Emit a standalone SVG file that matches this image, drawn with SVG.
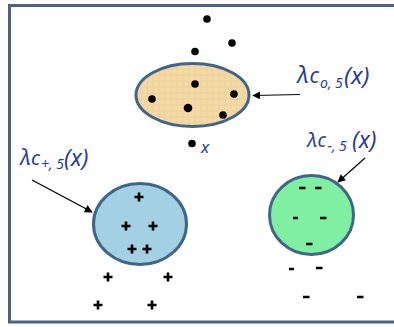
<svg xmlns="http://www.w3.org/2000/svg" width="394" height="327" viewBox="0 0 394 327">
<defs>
<style>
.frame{fill:none;stroke:#4a6283;stroke-width:3}
.node{stroke:#40658a;stroke-width:3}
.dot{fill:#000}
.pm{stroke:#000;stroke-width:2.6;fill:none}
.lbl{font-family:"Noto Sans","Liberation Sans",sans-serif;font-style:italic;fill:#2c3c98}
.conn{stroke:#000;stroke-width:1.2;fill:none;marker-end:url(#ah)}
</style>
<pattern id="tex" width="6" height="6" patternUnits="userSpaceOnUse">
<rect width="6" height="6" fill="#f3d9a4"/>
<path d="M0 3H6M3 0V6" stroke="#e8cc94" stroke-width="0.6"/>
</pattern>
<marker id="ah" viewBox="0 0 10 10" refX="9" refY="5" markerWidth="8" markerHeight="8" markerUnits="userSpaceOnUse" orient="auto">
<path d="M0 0L10 5L0 10z" fill="#000"/>
</marker>
</defs>
<rect width="394" height="327" fill="#fff"/>
<rect class="frame" x="9.5" y="5.5" width="400" height="316.5"/>

<g id="connectors">
<line class="conn" x1="300" y1="94.5" x2="253" y2="95.5"/>
<line class="conn" x1="32" y1="180" x2="92" y2="212"/>
<line class="conn" x1="365" y1="158" x2="338" y2="182"/>
</g>

<g id="free-points">
<circle class="dot" cx="207" cy="19" r="3.8"/>
<circle class="dot" cx="232" cy="43" r="3.8"/>
<circle class="dot" cx="195" cy="51.5" r="3.8"/>
<circle class="dot" cx="192" cy="143.5" r="3.8"/>
<text class="lbl" x="201" y="153" font-size="17">x</text>
</g>

<g id="cluster-o">
<ellipse class="node" cx="192.5" cy="95" rx="56.5" ry="31.5" fill="url(#tex)"/>
<circle class="dot" cx="195" cy="84" r="3.8"/>
<circle class="dot" cx="234" cy="94" r="3.8"/>
<circle class="dot" cx="152" cy="99" r="3.8"/>
<circle class="dot" cx="188" cy="108" r="4.3"/>
<circle class="dot" cx="223" cy="115" r="3.8"/>
</g>

<g id="label-o">
<text class="lbl" y="83"><tspan x="297" font-size="23">λ</tspan><tspan x="309.5" font-size="21">c</tspan><tspan x="320" y="88" font-size="14">o, 5</tspan><tspan x="344" y="84" font-size="24">(x)</tspan></text>
</g>

<g id="cluster-plus">
<ellipse class="node" cx="140" cy="224" rx="46.5" ry="40.5" fill="#a3d0e2"/>
<path class="pm" d="M134.5 197h9M139 192.5v9 M121.5 226h9M126 221.5v9 M148.5 226h9M153 221.5v9 M127.5 249h9M132 244.5v9 M142.5 249h9M147 244.5v9 M103.5 277h9M108 272.5v9 M163.5 277h9M168 272.5v9 M93.5 305h9M98 300.5v9 M147.5 305h9M152 300.5v9"/>
</g>

<g id="label-plus">
<text class="lbl" y="165"><tspan x="20" font-size="21">λ</tspan><tspan x="31" font-size="20">c</tspan><tspan x="41" y="169" font-size="14">+, 5</tspan><tspan x="64" y="166" font-size="23">(x)</tspan></text>
</g>

<g id="cluster-minus">
<ellipse class="node" cx="311.5" cy="215" rx="42" ry="39.5" fill="#7ff0a2"/>
<path class="pm" d="M299 188h6.5M315 188h6.5 M293 218h5M320 218h6.5 M306 244h6.5 M289 269h5M316 268h6.5 M303 297h6.5M357 297h6.5"/>
</g>

<g id="label-minus">
<text class="lbl" y="147"><tspan x="307" font-size="20">λ</tspan><tspan x="317.5" font-size="19">c</tspan><tspan x="327.5" y="151" font-size="14">-, 5</tspan><tspan x="352" y="148" font-size="23">(x)</tspan></text>
</g>
</svg>
